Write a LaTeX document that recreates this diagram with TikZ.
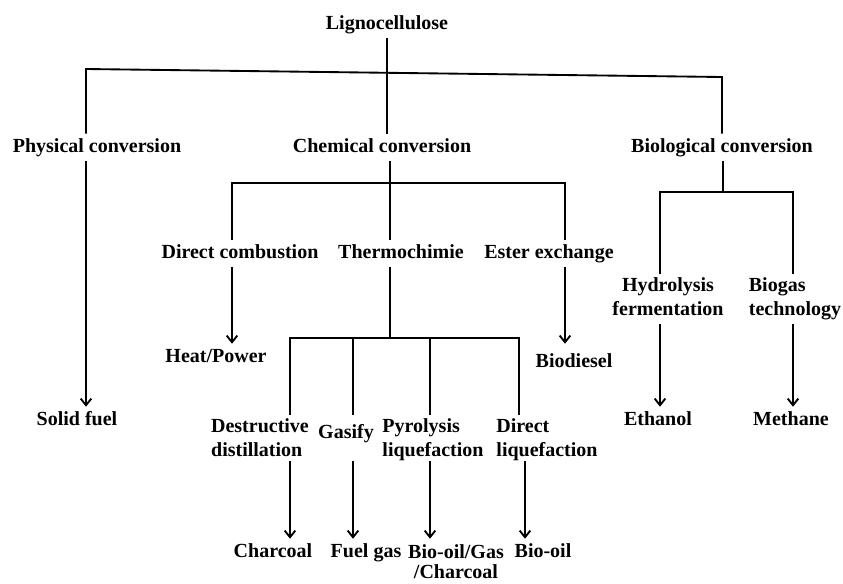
\documentclass[tikz,border=0pt]{standalone}
\usepackage{fontspec}
\setmainfont{Liberation Serif}
\usetikzlibrary{arrows.meta}
\begin{document}
\begin{tikzpicture}[x=0.75pt,y=-0.75pt,
	txt/.style={font=\bfseries\fontsize{15}{18}\selectfont, inner sep=3pt, anchor=base, text height=10.5pt, text depth=3.5pt},
	txtL/.style={font=\bfseries\fontsize{15}{18}\selectfont, inner sep=3pt, align=left},
	txtC/.style={font=\bfseries\fontsize{15}{18}\selectfont, inner sep=3pt, align=center},
	conn/.style={line width=1.4pt},
	arr/.style={line width=1.4pt, -{Straight Barb[length=5pt,width=8pt,line width=1.4pt]}}]
	\useasboundingbox (0,0) rectangle (843,583);

		% level 0 and 1
		\node[txt](ligno) at (387,29){Lignocellulose};
		\node[txt](physConv) at (97,152){Physical conversion};
		\node[txt](chemConv) at (382,152){Chemical conversion};
		\node[txt](bioConv) at (722,152){Biological conversion};

		\coordinate (physBus) at (86,69);
		\coordinate (bioBus) at (722,77);
		\draw [conn] (ligno.south) -- (ligno.south |- chemConv.north);
		\draw [conn] (physBus |- physConv.north) -- (physBus) -- (bioBus) -- (bioBus |- bioConv.north);

		% physical
		\node[txt](solidFuel) at (77,425){Solid fuel};
		\draw [arr] (physBus |- physConv.south) -- (physBus |- solidFuel.north);

		% chemical
		\node[txt](dirComb) at (240,258){Direct combustion};
		\node[txt](thermo) at (401,258){Thermochimie};
		\node[txt](esterEx) at (549,258){Ester exchange};
		\node[txt](heatPower) at (216,362){Heat/Power};
		\node[txt](bioDiesel) at (574,367){Biodiesel};

		\coordinate (chemBusL) at (232,183);
		\coordinate (chemBusM) at (390,183);
		\coordinate (chemBusR) at (565,183);
		\draw [conn] (chemBusM |- chemConv.south) -- (chemBusM) -- (chemBusM |- thermo.north);
		\draw [conn] (chemBusL |- dirComb.north) -- (chemBusL) -- (chemBusR) -- (chemBusR |- esterEx.north);
		\draw [arr] (chemBusL |- dirComb.south) -- (chemBusL |- heatPower.north);
		\draw [arr] (chemBusR |- esterEx.south) -- (chemBusR |- heatPower.north);

		% thermochimie
		\node[txtL](destDist) at (260,438){Destructive\\distillation};
		\node[txt](gasify) at (346,438){Gasify};
		\node[txtL](pyroLiq) at (433,440){Pyrolysis\\liquefaction};
		\node[txtL](dirLiq) at (547,440){Direct\\liquefaction};

		\node[txt](charcoal) at (273,557){Charcoal};
		\node[txt](fuelGas) at (366,557){Fuel gas};
		\node[txtC, font=\bfseries\fontsize{15}{15}\selectfont](bioOilGas) at (456,562){Bio-oil/Gas\\/Charcoal};
		\node[txt](bioOil) at (543,557){Bio-oil};

		\coordinate (thermoBus1) at (290,338);
		\coordinate (thermoBus2) at (353,338);
		\coordinate (thermoBus3) at (430,338);
		\coordinate (thermoBus4) at (519,338);
		\coordinate (thermoBusM) at (390,338);
		\coordinate (dirLiqArr) at (525,338);
		\draw [conn] (thermoBusM |- thermo.south) -- (thermoBusM);
		\draw [conn] (thermoBus1 |- destDist.north) -- (thermoBus1) -- (thermoBus4) -- (thermoBus4 |- destDist.north);
		\draw [conn] (thermoBus2) -- (thermoBus2 |- destDist.north);
		\draw [conn] (thermoBus3) -- (thermoBus3 |- destDist.north);

		\draw [arr] (thermoBus1 |- destDist.south) -- (thermoBus1 |- charcoal.north);
		\draw [arr] (thermoBus2 |- destDist.south) -- (thermoBus2 |- fuelGas.north);
		\draw [arr] (thermoBus3 |- destDist.south) -- (thermoBus3 |- charcoal.north);
		\draw [arr] (dirLiqArr |- destDist.south) -- (dirLiqArr |- bioOil.north);

		% biological
		\node[txtC](hydroFerm) at (668,297){Hydrolysis\\fermentation};
		\node[txtL](biogasTech) at (795,299){Biogas\\technology};
		\node[txt](ethanol) at (658,425){Ethanol};
		\node[txt](methane) at (791,425){Methane};

		\coordinate (bioBusL) at (660,192);
		\coordinate (bioBusM) at (723,192);
		\coordinate (bioBusR) at (793,192);
		\draw [conn] (bioBusM |- bioConv.south) -- (bioBusM);
		\draw [conn] (bioBusL |- hydroFerm.north) -- (bioBusL) -- (bioBusR) -- (bioBusR |- hydroFerm.north);
		\draw [arr] (bioBusL |- biogasTech.south) -- (bioBusL |- ethanol.north);
		\draw [arr] (bioBusR |- biogasTech.south) -- (bioBusR |- methane.north);
\end{tikzpicture}
\end{document}
